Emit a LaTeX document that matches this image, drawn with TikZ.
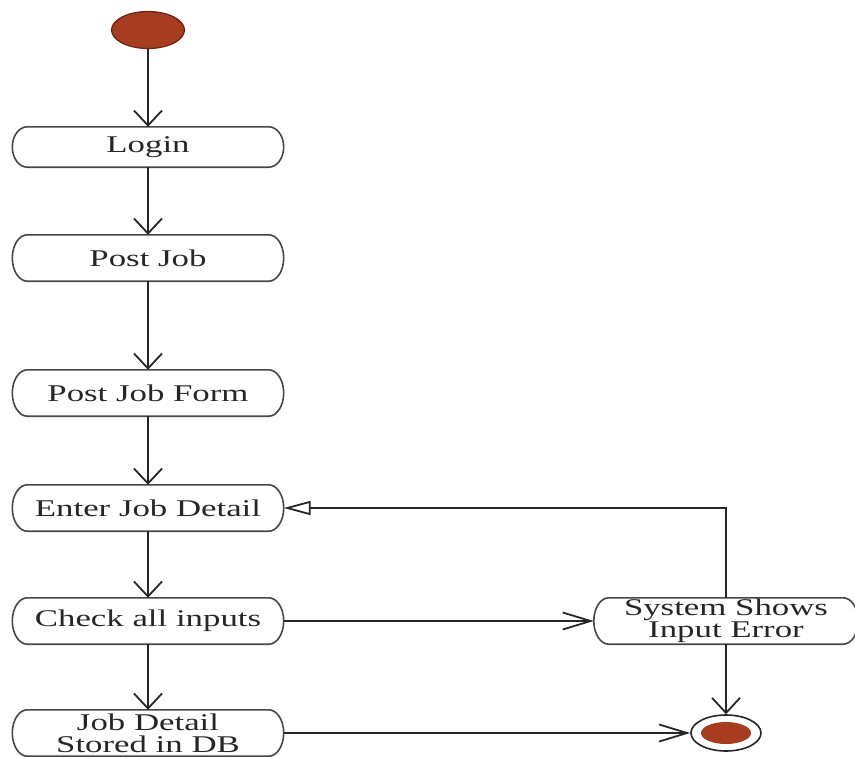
\documentclass[tikz,border=0pt]{standalone}
\usepackage{fontspec}
\setmainfont{Liberation Serif}[FakeStretch=1.45]
\usetikzlibrary{arrows.meta,calc,shapes.geometric}

\definecolor{dotred}{HTML}{A63C20}
\definecolor{dotrim}{HTML}{6E2412}
\definecolor{ink}{HTML}{262626}

\begin{document}
\begin{tikzpicture}[x=1pt,y=-1pt,
  activity/.style={minimum width=271pt,minimum height=46pt,inner sep=0pt,
    align=center,text=ink,font=\fontsize{24}{22}\selectfont},
  outline/.style={draw=ink!85,line width=1.6pt},
  flow/.style={draw=ink,line width=1.8pt,-{Straight Barb[length=15pt,width=28pt]}},
  hflow/.style={draw=ink,line width=1.8pt,-{Straight Barb[length=28pt,width=17pt]}},
  back/.style={draw=ink,line width=1.8pt,-{Triangle[open,length=27pt,width=14pt,fill=white]}}]

\useasboundingbox (0,0) rectangle (855,756);

% start and end markers
\node[ellipse,draw=dotrim,line width=1.2pt,fill=dotred,minimum width=73pt,
  minimum height=37pt,inner sep=0pt] (start) at (148,30) {};
\node[ellipse,draw=ink,line width=1.6pt,fill=white,minimum width=70pt,
  minimum height=36pt,inner sep=0pt] (final) at (726,733) {};
\fill[dotred] (final.center) ellipse[x radius=25pt,y radius=11pt];

% activities
\node[activity,minimum height=40pt] (login) at (148,147) {Login};
\node[activity] (post)  at (148,258) {Post Job};
\node[activity] (form)  at (148,393) {Post Job Form};
\node[activity] (enter) at (148,508) {Enter Job Detail};
\node[activity] (check) at (148,621) {Check all inputs};
\node[activity] (db)    at (148,733) {Job Detail\\Stored in DB};
\node[activity,minimum width=264pt] (err) at (726,621) {System Shows\\Input Error};

% activity outlines: flat top and bottom, half-elliptic ends
\foreach \b in {login,post,form,enter,check,db,err}{
  \path let \p1=(\b.north west), \p2=(\b.south east), \n1={(\y1-\y2)/2} in
    [outline] (\x1+15pt,\y1) -- (\x2-15pt,\y1)
    arc[start angle=90,end angle=-90,x radius=15pt,y radius=\n1]
    -- (\x1+15pt,\y2)
    arc[start angle=270,end angle=90,x radius=15pt,y radius=\n1] -- cycle;
}

% control flow
\draw[flow] (start) -- (login);
\draw[flow] (login) -- (post);
\draw[flow] (post) -- (form);
\draw[flow] (form) -- (enter);
\draw[flow] (enter) -- (check);
\draw[flow] (check) -- (db);
\draw[hflow] (check) -- (err);
\draw[hflow] (db) -- (final);
\draw[flow] (err) -- (final);
\draw[back] (err.north) |- (enter.east);
\end{tikzpicture}
\end{document}
